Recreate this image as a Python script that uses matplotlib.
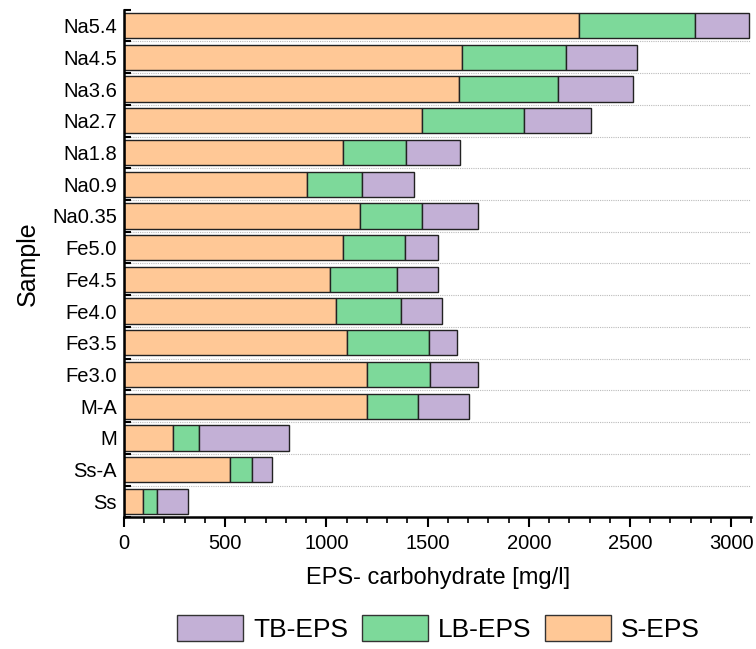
import matplotlib.pyplot as plt
from matplotlib.patches import Patch
from matplotlib.ticker import MultipleLocator, FixedLocator

plt.rcParams['font.family'] = ['Liberation Sans', 'DejaVu Sans']

samples = ['Na5.4', 'Na4.5', 'Na3.6', 'Na2.7', 'Na1.8', 'Na0.9', 'Na0.35',
           'Fe5.0', 'Fe4.5', 'Fe4.0', 'Fe3.5', 'Fe3.0', 'M-A', 'M', 'Ss-A', 'Ss']
s_eps = [2250, 1670, 1655, 1470, 1080, 905, 1165,
         1080, 1020, 1045, 1100, 1200, 1200, 242, 523, 94]
lb_eps = [570, 515, 490, 505, 312, 272, 308,
          310, 330, 325, 405, 310, 252, 128, 109, 70]
tb_eps = [270, 350, 370, 330, 268, 257, 278,
          162, 200, 200, 140, 240, 254, 443, 99, 150]

c_s = '#FFC896'
c_lb = '#7DD99A'
c_tb = '#C3B0D6'

fig = plt.figure(figsize=(7.56, 6.49), dpi=100)
ax = fig.add_axes([0.164, 0.203, 0.83, 0.782])

y = list(range(len(samples)))
left2 = [a + b for a, b in zip(s_eps, lb_eps)]
ax.barh(y, s_eps, height=0.8, color=c_s, edgecolor='#222222', linewidth=1.0)
ax.barh(y, lb_eps, left=s_eps, height=0.8, color=c_lb, edgecolor='#222222', linewidth=1.0)
ax.barh(y, tb_eps, left=left2, height=0.8, color=c_tb, edgecolor='#222222', linewidth=1.0)

ax.set_ylim(len(samples) - 0.5, -0.5)
ax.set_xlim(0, 3100)

ax.set_yticks(y)
ax.set_yticklabels(samples, fontsize=14.5)
ax.tick_params(axis='y', which='major', length=0, pad=5)
bounds = [i - 0.5 for i in range(len(samples) + 1)]
ax.yaxis.set_minor_locator(FixedLocator(bounds))
ax.tick_params(axis='y', which='minor', direction='in', length=5, width=1.5)
for b in bounds[1:-1]:
    ax.axhline(b, color='#bbbbbb', linestyle=(0, (1, 1)), linewidth=0.8, zorder=0)

ax.xaxis.set_major_locator(MultipleLocator(500))
ax.xaxis.set_minor_locator(MultipleLocator(100))
ax.tick_params(axis='x', which='major', direction='out', length=7, width=1.5,
               labelsize=14.5, pad=5)
ax.tick_params(axis='x', which='minor', direction='out', length=4, width=1.2)

for side in ['top', 'right']:
    ax.spines[side].set_visible(False)
for side in ['left', 'bottom']:
    ax.spines[side].set_linewidth(1.8)

ax.set_xlabel('EPS- carbohydrate [mg/l]', fontsize=17, labelpad=10)
ax.set_ylabel('Sample', fontsize=18, labelpad=9)

handles = [Patch(facecolor=c_tb, edgecolor='#333333', label='TB-EPS'),
           Patch(facecolor=c_lb, edgecolor='#333333', label='LB-EPS'),
           Patch(facecolor=c_s, edgecolor='#333333', label='S-EPS')]
fig.legend(handles=handles, loc='center', bbox_to_anchor=(0.58, 0.032), ncol=3,
           frameon=False, fontsize=19, handlelength=2.5, handleheight=1.15,
           columnspacing=0.5, handletextpad=0.4)

fig.savefig('out.png', dpi=100)
